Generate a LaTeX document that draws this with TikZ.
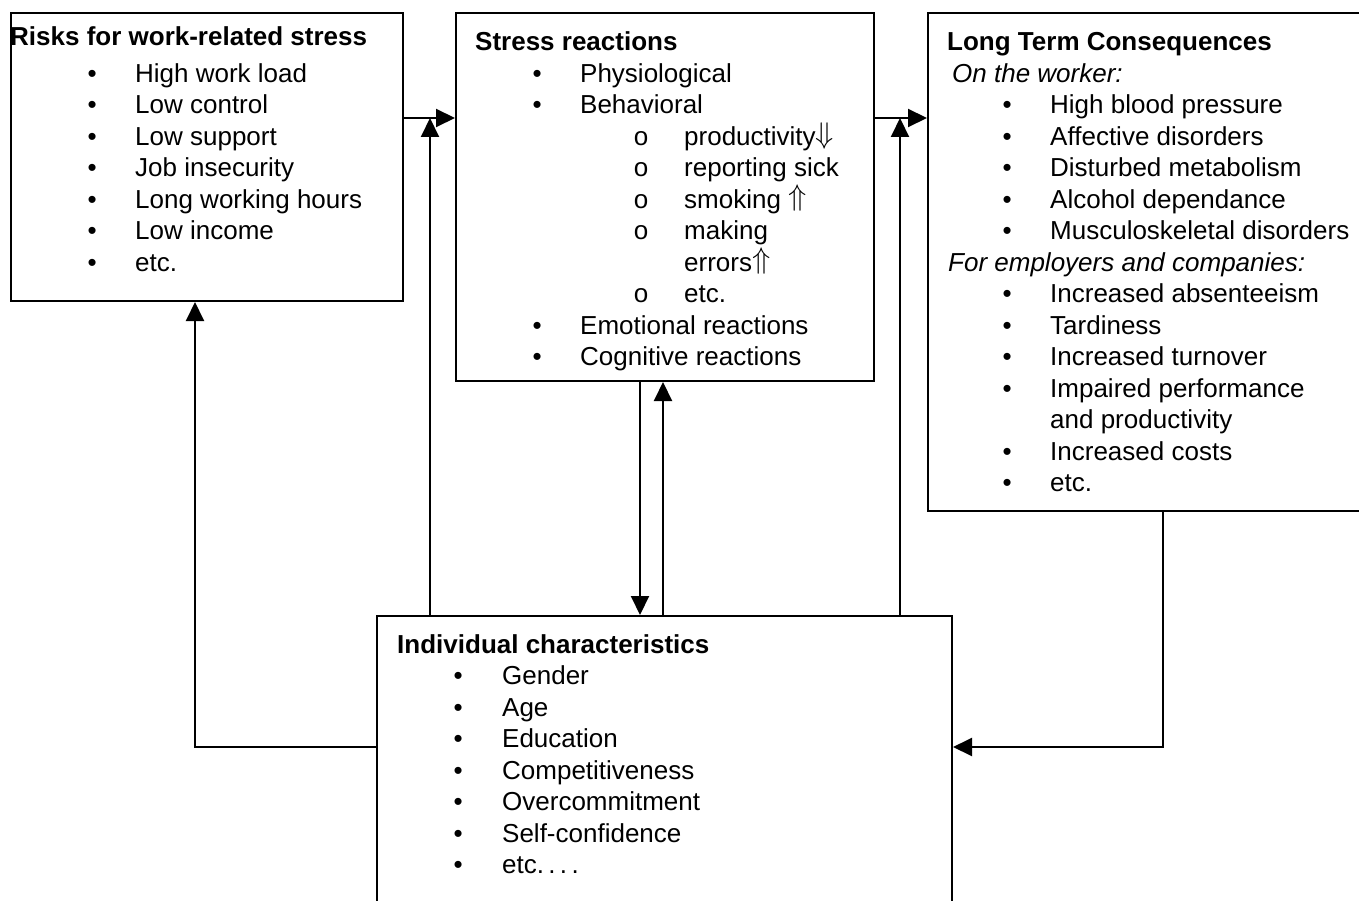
\documentclass[tikz,border=0pt]{standalone}
\usepackage{fontspec}
\usepackage{graphicx}
\setmainfont{Liberation Sans}
\usetikzlibrary{arrows.meta}

% bullet lines: text start, bullet centre, text
\newcommand{\bl}[3]{\makebox[#1pt][l]{\hspace*{#2pt}\makebox[0pt]{\textbullet}}#3}
\newcommand{\sbl}[3]{\makebox[#1pt][l]{\hspace*{#2pt}\makebox[0pt]{o}}#3}
\newcommand{\downmark}{\smash{\raisebox{2pt}{\scalebox{1.2}{$\Downarrow$}}}}
\newcommand{\upmark}{\smash{\raisebox{3pt}{\scalebox{1.2}{$\Uparrow$}}}}

\tikzset{
  box/.style={draw, line width=2pt, anchor=north west, inner sep=0pt},
  txt/.style={anchor=base west, inner sep=0pt, font=\fontsize{26}{31.5}\selectfont},
  conn/.style={line width=2pt, -{Triangle[length=19pt,width=18pt]}}
}

\begin{document}
\begin{tikzpicture}[x=1pt, y=-1pt]
        \useasboundingbox (0,0) rectangle (1359,901);
        \clip (0,0) rectangle (1359,901);

        % Boxes
        \node[box, minimum width=392pt, minimum height=288pt] (risks) at (10,12) {};
        \node[box, minimum width=418pt, minimum height=368pt] (reactions) at (455,12) {};
        \node[box, minimum width=440pt, minimum height=498pt] (consequences) at (927,12) {};
        \node[box, minimum width=575pt, minimum height=300pt] (individual) at (376,615) {};

        % Texts
        \node[txt] (risks-txt) at (10,46) {\begin{tabular}[t]{@{}l@{}}
            \textbf{Risks for work-related stress}\\[5pt]
            \bl{125}{82}{High work load}\\
            \bl{125}{82}{Low control}\\
            \bl{125}{82}{Low support}\\
            \bl{125}{82}{Job insecurity}\\
            \bl{125}{82}{Long working hours}\\
            \bl{125}{82}{Low income}\\
            \bl{125}{82}{etc.}
        \end{tabular}};

        \node[txt] (reactions-txt) at (475,51) {\begin{tabular}[t]{@{}l@{}}
            \textbf{Stress reactions}\\
            \bl{105}{62}{Physiological}\\
            \bl{105}{62}{Behavioral}\\
            \sbl{209}{166}{productivity\downmark}\\
            \sbl{209}{166}{reporting sick}\\
            \sbl{209}{166}{smoking \upmark}\\
            \sbl{209}{166}{making}\\
            \hspace*{209pt}errors\upmark\\
            \sbl{209}{166}{etc.}\\
            \bl{105}{62}{Emotional reactions}\\
            \bl{105}{62}{Cognitive reactions}
        \end{tabular}};

        \node[txt] (consequences-txt) at (947,51) {\begin{tabular}[t]{@{}l@{}}
            \textbf{Long Term Consequences}\\
            \hspace*{5pt}\textit{On the worker:}\\
            \bl{103}{60}{High blood pressure}\\
            \bl{103}{60}{Affective disorders}\\
            \bl{103}{60}{Disturbed metabolism}\\
            \bl{103}{60}{Alcohol dependance}\\
            \bl{103}{60}{Musculoskeletal disorders}\\
            \hspace*{1pt}\textit{For employers and companies:}\\
            \bl{103}{60}{Increased absenteeism}\\
            \bl{103}{60}{Tardiness}\\
            \bl{103}{60}{Increased turnover}\\
            \bl{103}{60}{Impaired performance}\\
            \hspace*{103pt}and productivity\\
            \bl{103}{60}{Increased costs}\\
            \bl{103}{60}{etc.}
        \end{tabular}};

        \node[txt] (individual-txt) at (397,653) {\begin{tabular}[t]{@{}l@{}}
            \textbf{Individual characteristics}\\
            \bl{105}{61}{Gender}\\
            \bl{105}{61}{Age}\\
            \bl{105}{61}{Education}\\
            \bl{105}{61}{Competitiveness}\\
            \bl{105}{61}{Overcommitment}\\
            \bl{105}{61}{Self-confidence}\\
            \bl{105}{61}{etc.\,.\,.\,.}
        \end{tabular}};

        % Helper coordinates
        \coordinate (lvl) at (0,118);
        \coordinate (side) at (0,747);
        \coordinate (up1) at (430,118);
        \coordinate (up2) at (900,118);
        \coordinate (dn) at (640,0);
        \coordinate (upc) at (663,0);
        \coordinate (back) at (195,0);
        \coordinate (fwd) at (1163,0);

        % Connectors
        \draw[conn] (risks.east |- lvl) -- (reactions.west |- lvl);
        \draw[conn] (reactions.east |- lvl) -- (consequences.west |- lvl);
        \draw[conn] (individual.north -| up1) -- (up1);
        \draw[conn] (individual.north -| up2) -- (up2);
        \draw[conn] (reactions.south -| dn) -- (individual.north -| dn);
        \draw[conn] (individual.north -| upc) -- (reactions.south -| upc);
        \draw[conn] (individual.west |- side) -| (risks.south -| back);
        \draw[conn] (consequences.south -| fwd) |- (individual.east |- side);
    \end{tikzpicture}
\end{document}
